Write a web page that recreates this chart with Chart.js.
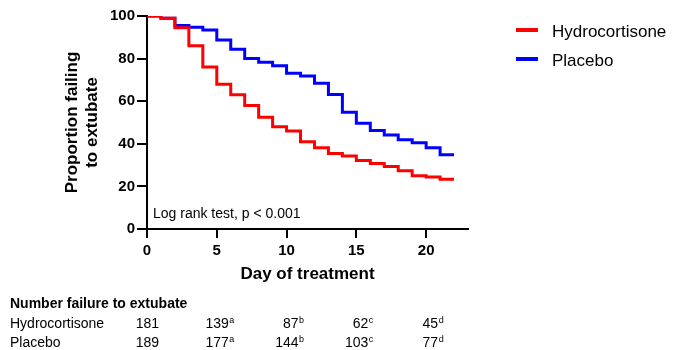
<!DOCTYPE html>
<html lang="en">
<head>
<meta charset="UTF-8">
<title>Proportion failing to extubate</title>
<script src="https://cdn.jsdelivr.net/npm/chart.js"></script>
<style>
  html, body { margin: 0; padding: 0; background: #fff; }
</style>
</head>
<body>
<canvas id="kmChart" width="673" height="350"></canvas>
<script>
// day of treatment and proportion still failing
const days = [0, 1, 2, 3, 4, 5, 6, 7, 8, 9, 10, 11, 12, 13, 14, 15, 16, 17, 18, 19, 20, 21, 22];
const hydrocortisone = [100, 99, 94.5, 86, 76, 68, 63, 58, 52.5, 48, 46, 41, 38.2, 35.5, 34.3, 32.2, 30.8, 29.3, 27.4, 25, 24.4, 23.3, 23.3];
const placebo = [100, 99, 95.5, 94.7, 93.4, 88.7, 84.4, 80.1, 78.3, 76.7, 73.1, 71.8, 68.4, 63.2, 54.8, 49.6, 46.2, 44.1, 41.9, 40.5, 38.2, 34.9, 34.9];

// numbers under the x axis
const tableDays = [0, 5, 10, 15, 20];
const hydroFailing = ['181', '139', '87', '62', '45'];
const placeboFailing = ['189', '177', '144', '103', '77'];
const tableMarks = ['', 'a', 'b', 'c', 'd'];

const FONT = '"Liberation Sans", Arial, Helvetica, sans-serif';
Chart.defaults.font.family = FONT;
Chart.defaults.color = '#000';

function toPoints(ys) {
    return days.map((d, i) => ({ x: d, y: ys[i] }));
}

// legend, note and the table are drawn by hand
const extras = {
    id: 'extras',
    afterDraw(chart) {
        const ctx = chart.ctx;
        const area = chart.chartArea;
        const xs = chart.scales.x;
        ctx.save();
        ctx.fillStyle = '#000';
        ctx.textAlign = 'left';
        ctx.textBaseline = 'alphabetic';

        ctx.font = '14px ' + FONT;
        ctx.fillText('Log rank test, p < 0.001', area.left + 6, area.bottom - 11.5);

        chart.data.datasets.forEach((ds, i) => {
            const y = area.top + 14 + i * 29;
            ctx.strokeStyle = ds.borderColor;
            ctx.lineWidth = 4;
            ctx.beginPath();
            ctx.moveTo(area.right + 48, y);
            ctx.lineTo(area.right + 70, y);
            ctx.stroke();
            ctx.font = '17px ' + FONT;
            ctx.fillText(ds.label, area.right + 84, y + 6.5);
        });

        ctx.font = 'bold 14px ' + FONT;
        ctx.fillText('Number failure to extubate', 10, 308);

        const rows = [['Hydrocortisone', hydroFailing, 327.5], ['Placebo', placeboFailing, 346.5]];
        rows.forEach(([name, vals, y]) => {
            ctx.font = '14px ' + FONT;
            ctx.textAlign = 'left';
            ctx.fillText(name, 10, y);
            vals.forEach((v, j) => {
                const right = xs.getPixelForValue(tableDays[j]) + 12;
                ctx.font = '14px ' + FONT;
                ctx.textAlign = 'right';
                ctx.fillText(v, right, y);
                if (tableMarks[j]) {
                    ctx.font = '9px ' + FONT;
                    ctx.textAlign = 'left';
                    ctx.fillText(tableMarks[j], right + 0.5, y - 5);
                }
            });
        });
        ctx.restore();
    }
};

new Chart(document.getElementById('kmChart'), {
    type: 'line',
    data: {
        datasets: [
            {
                label: 'Hydrocortisone',
                data: toPoints(hydrocortisone),
                borderColor: '#ff0000',
                backgroundColor: '#ff0000',
                borderWidth: 3,
                stepped: 'before',
                pointRadius: 0,
                fill: false
            },
            {
                label: 'Placebo',
                data: toPoints(placebo),
                borderColor: '#0000ff',
                backgroundColor: '#0000ff',
                borderWidth: 3,
                stepped: 'before',
                pointRadius: 0,
                fill: false
            }
        ]
    },
    options: {
        responsive: false,
        animation: false,
        devicePixelRatio: 1,
        layout: {
            padding: { left: 58, top: 16, right: 205, bottom: 61 }
        },
        plugins: {
            legend: { display: false },
            tooltip: { enabled: false }
        },
        scales: {
            x: {
                type: 'linear',
                min: 0,
                max: 23,
                afterFit(scale) { scale.height = 60; },
                border: { display: true, color: '#000', width: 2 },
                grid: { drawOnChartArea: false, drawTicks: true, tickLength: 9, color: '#000', lineWidth: 2 },
                ticks: {
                    stepSize: 5,
                    includeBounds: false,
                    padding: 4,
                    maxRotation: 0,
                    font: { size: 15, weight: 'bold' }
                },
                title: {
                    display: true,
                    text: 'Day of treatment',
                    font: { size: 17, weight: 'bold' }
                }
            },
            y: {
                min: 0,
                max: 100,
                afterFit(scale) { scale.width = 89; },
                border: { display: true, color: '#000', width: 2 },
                grid: { drawOnChartArea: false, drawTicks: true, tickLength: 10, color: '#000', lineWidth: 2 },
                ticks: {
                    stepSize: 20,
                    padding: 2,
                    font: { size: 15, weight: 'bold' }
                },
                title: {
                    display: true,
                    text: ['Proportion failing', 'to extubate'],
                    font: { size: 17, weight: 'bold' }
                }
            }
        }
    },
    plugins: [extras]
});
</script>
</body>
</html>
